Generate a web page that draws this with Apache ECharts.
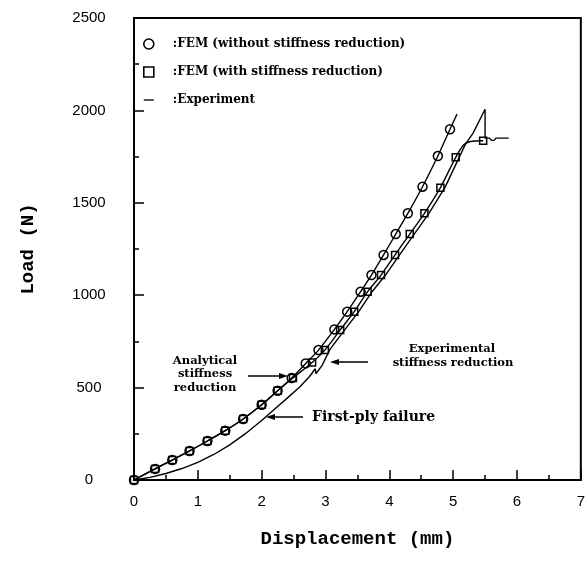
<!DOCTYPE html>
<html><head><meta charset="utf-8">
<script src="https://cdn.jsdelivr.net/npm/echarts@6/dist/echarts.min.js"></script>
<style>html,body{margin:0;padding:0;background:#fff}#c{width:588px;height:566px}</style>
</head><body><div id="c"></div>
<script>
// ---- data ----
const legendNames = [':FEM (without stiffness reduction)', ':FEM (with stiffness reduction)', ':Experiment'];

// FEM without stiffness reduction (circles)
const circX = [0, 0.33, 0.60, 0.87, 1.15, 1.43, 1.71, 2.00, 2.25, 2.47, 2.69, 2.89, 3.14, 3.34, 3.55, 3.72, 3.91, 4.10, 4.29, 4.52, 4.76, 4.95];
const circY = [0, 60, 108, 157, 211, 267, 330, 407, 483, 552, 631, 703, 815, 911, 1019, 1109, 1218, 1331, 1443, 1587, 1753, 1898];
const circTailX = [5.06];
const circTailY = [1980];

// FEM with stiffness reduction (squares)
const sqX = [0, 0.33, 0.60, 0.87, 1.15, 1.43, 1.71, 2.00, 2.25, 2.49, 2.79, 2.99, 3.23, 3.45, 3.66, 3.87, 4.09, 4.32, 4.55, 4.80, 5.04, 5.47];
const sqY = [0, 60, 108, 157, 211, 267, 330, 407, 483, 552, 636, 703, 812, 911, 1019, 1109, 1218, 1331, 1443, 1582, 1746, 1836];
const sqBendX = [5.17, 5.27];
const sqBendY = [1815, 1832];

// Experiment
const expX = [0, 0.25, 0.5, 0.75, 1.0, 1.25, 1.5, 1.75, 2.0, 2.2, 2.4, 2.6, 2.75, 2.84, 2.85, 2.95, 3.07, 3.30, 3.52, 3.73, 3.94, 4.16, 4.39, 4.62, 4.87, 5.10, 5.20, 5.31, 5.50, 5.50, 5.57, 5.60, 5.64, 5.67, 5.87];
const expY = [0, 14, 35, 62, 95, 138, 190, 252, 322, 383, 443, 505, 560, 602, 575, 622, 707, 812, 911, 1019, 1109, 1218, 1331, 1443, 1582, 1750, 1822, 1876, 2006, 1850, 1850, 1838, 1838, 1850, 1850];

// axis ticks
const xTickMin = 0, xTickMax = 7, xTickStep = 1;
const yTickMin = 0, yTickMax = 2500, yTickStep = 500;

// ---- build series data ----
function pts(xs, ys, hidden) {
  return xs.map((x, i) => hidden ? {value: [x, ys[i]], symbol: 'none'} : [x, ys[i]]);
}
const circData = pts(circX, circY, false).concat(pts(circTailX, circTailY, true));
const sqMarked = pts(sqX, sqY, false);
const sqData = sqMarked.slice(0, sqMarked.length - 1)
  .concat(pts(sqBendX, sqBendY, true))
  .concat([sqMarked[sqMarked.length - 1]]);
const expData = pts(expX, expY, false);

const chart = echarts.init(document.getElementById('c'), null, {renderer: 'canvas'});
const BLK = '#000';
const tickFont = {fontFamily: 'Liberation Sans', fontSize: 15, color: BLK};
const nameFont = {fontFamily: 'Liberation Mono', fontSize: 19, color: BLK, fontWeight: 'bold'};
const annFont = 'bold 11.5px "DejaVu Serif"';

chart.setOption({
  animation: false,
  backgroundColor: '#fff',
  grid: {left: 134, top: 18, right: 3, bottom: 86, show: true, borderColor: BLK, borderWidth: 2, containLabel: false},
  legend: {
    orient: 'vertical', left: 138, top: 32, itemWidth: 10, itemHeight: 10, itemGap: 14,
    selectedMode: false,
    textStyle: {fontFamily: 'DejaVu Serif', fontWeight: 'bold', fontSize: 12, color: BLK, lineHeight: 14, padding: [0, 0, 0, 14]},
    data: [
      {name: legendNames[0], icon: 'circle', itemStyle: {color: 'rgba(0,0,0,0)', borderColor: BLK, borderWidth: 1.6}},
      {name: legendNames[1], icon: 'rect', itemStyle: {color: 'rgba(0,0,0,0)', borderColor: BLK, borderWidth: 1.6}},
      {name: legendNames[2], icon: 'path://M0,0H12V1.6H0Z', itemStyle: {color: BLK, borderWidth: 0}}
    ]
  },
  xAxis: {
    type: 'value', min: xTickMin, max: xTickMax, interval: xTickStep,
    name: 'Displacement (mm)', nameLocation: 'middle', nameGap: 50, nameTextStyle: nameFont,
    axisLine: {show: true, lineStyle: {color: BLK, width: 2}},
    axisTick: {show: true, inside: true, length: 10, lineStyle: {color: BLK, width: 1.5}},
    minorTick: {show: true, splitNumber: 2, length: 5, lineStyle: {color: BLK, width: 1.5}},
    splitLine: {show: false},
    axisLabel: Object.assign({margin: 14, formatter: v => String(v)}, tickFont)
  },
  yAxis: {
    type: 'value', min: yTickMin, max: yTickMax, interval: yTickStep,
    name: 'Load (N)', nameLocation: 'middle', nameGap: 96, nameRotate: 90, nameTextStyle: nameFont,
    axisLine: {show: true, lineStyle: {color: BLK, width: 2}},
    axisTick: {show: true, inside: true, length: 10, lineStyle: {color: BLK, width: 1.5}},
    minorTick: {show: true, splitNumber: 2, length: 5, lineStyle: {color: BLK, width: 1.5}},
    splitLine: {show: false},
    axisLabel: Object.assign({margin: 45, align: 'center', formatter: v => String(v)}, tickFont)
  },
  series: [
    {
      name: legendNames[2], type: 'line', data: expData, smooth: false,
      symbol: 'none', lineStyle: {color: BLK, width: 1.4}, itemStyle: {color: BLK}, z: 2,
      emphasis: {disabled: true}
    },
    {
      name: legendNames[1], type: 'line', data: sqData, smooth: 0.3,
      symbol: 'rect', symbolSize: 7, showAllSymbol: true,
      lineStyle: {color: BLK, width: 1.4},
      itemStyle: {color: 'rgba(0,0,0,0)', borderColor: BLK, borderWidth: 1.5}, z: 3,
      emphasis: {disabled: true}
    },
    {
      name: legendNames[0], type: 'line', data: circData, smooth: 0.3,
      symbol: 'circle', symbolSize: 9, showAllSymbol: true,
      lineStyle: {color: BLK, width: 1.4},
      itemStyle: {color: 'rgba(0,0,0,0)', borderColor: BLK, borderWidth: 1.5}, z: 4,
      emphasis: {disabled: true}
    }
  ],
  graphic: [
    {type: 'text', x: 205, y: 361, style: {text: 'Analytical', font: annFont, fill: BLK, align: 'center', verticalAlign: 'middle'}},
    {type: 'text', x: 205, y: 374, style: {text: 'stiffness', font: annFont, fill: BLK, align: 'center', verticalAlign: 'middle'}},
    {type: 'text', x: 205, y: 388, style: {text: 'reduction', font: annFont, fill: BLK, align: 'center', verticalAlign: 'middle'}},
    {type: 'line', shape: {x1: 248, y1: 376, x2: 281, y2: 376}, style: {stroke: BLK, lineWidth: 1.5}},
    {type: 'polygon', shape: {points: [[288, 376], [279, 373], [279, 379]]}, style: {fill: BLK}},

    {type: 'text', x: 452, y: 349, style: {text: 'Experimental', font: annFont, fill: BLK, align: 'center', verticalAlign: 'middle'}},
    {type: 'text', x: 453, y: 363, style: {text: 'stiffness reduction', font: annFont, fill: BLK, align: 'center', verticalAlign: 'middle'}},
    {type: 'line', shape: {x1: 368, y1: 362, x2: 337, y2: 362}, style: {stroke: BLK, lineWidth: 1.5}},
    {type: 'polygon', shape: {points: [[330, 362], [339, 359], [339, 365]]}, style: {fill: BLK}},

    {type: 'text', x: 312, y: 417, style: {text: 'First-ply failure', font: 'bold 14px "DejaVu Serif"', fill: BLK, align: 'left', verticalAlign: 'middle'}},
    {type: 'line', shape: {x1: 303, y1: 417, x2: 273, y2: 417}, style: {stroke: BLK, lineWidth: 1.5}},
    {type: 'polygon', shape: {points: [[266, 417], [275, 414], [275, 420]]}, style: {fill: BLK}}
  ]
});
</script></body></html>
